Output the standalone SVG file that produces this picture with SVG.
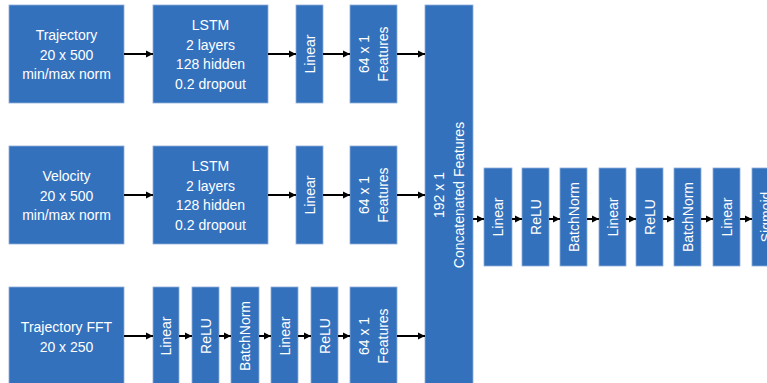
<svg xmlns="http://www.w3.org/2000/svg" width="767" height="383" viewBox="0 0 767 383">
<style>
.b{fill:#3371BD;stroke:#8FAEDB;stroke-width:0.8}
.t{fill:#fff;font-family:"Liberation Sans",Arial,sans-serif;font-size:14px;text-anchor:middle}
.c{stroke:#000;stroke-width:2;fill:none;marker-end:url(#ah)}
</style>
<defs>
<marker id="ah" markerUnits="userSpaceOnUse" markerWidth="8" markerHeight="8" refX="7" refY="4" orient="auto">
<path d="M0,0.5 L7,4 L0,7.5 Z" fill="#000"/>
</marker>
</defs>
<rect width="767" height="383" fill="#fff"/>
<g id="n-traj"><rect class="b" x="9" y="5" width="115" height="98"/><text class="t"><tspan x="66.5" y="40">Trajectory</tspan><tspan x="66.5" y="59.5">20 x 500</tspan><tspan x="66.5" y="79">min/max norm</tspan></text></g>
<g id="n-lstm1"><rect class="b" x="153" y="5" width="115" height="98"/><text class="t"><tspan x="210.5" y="30">LSTM</tspan><tspan x="210.5" y="49.5">2 layers</tspan><tspan x="210.5" y="69">128 hidden</tspan><tspan x="210.5" y="88.5">0.2 dropout</tspan></text></g>
<g id="n-lin1"><rect class="b" x="296" y="5" width="27" height="98"/><text class="t" transform="translate(309.5,54) rotate(-90)"><tspan x="0" y="5">Linear</tspan></text></g>
<g id="n-feat1"><rect class="b" x="350" y="5" width="47" height="98"/><text class="t" transform="translate(373.5,54) rotate(-90)"><tspan x="0" y="-4.75">64 x 1</tspan><tspan x="0" y="14.75">Features</tspan></text></g>

<g id="n-vel"><rect class="b" x="9" y="146" width="115" height="98"/><text class="t"><tspan x="66.5" y="181">Velocity</tspan><tspan x="66.5" y="200.5">20 x 500</tspan><tspan x="66.5" y="220">min/max norm</tspan></text></g>
<g id="n-lstm2"><rect class="b" x="153" y="146" width="115" height="98"/><text class="t"><tspan x="210.5" y="171">LSTM</tspan><tspan x="210.5" y="190.5">2 layers</tspan><tspan x="210.5" y="210">128 hidden</tspan><tspan x="210.5" y="229.5">0.2 dropout</tspan></text></g>
<g id="n-lin2"><rect class="b" x="296" y="146" width="27" height="98"/><text class="t" transform="translate(309.5,195) rotate(-90)"><tspan x="0" y="5">Linear</tspan></text></g>
<g id="n-feat2"><rect class="b" x="350" y="146" width="47" height="98"/><text class="t" transform="translate(373.5,195) rotate(-90)"><tspan x="0" y="-4.75">64 x 1</tspan><tspan x="0" y="14.75">Features</tspan></text></g>

<g id="n-fft"><rect class="b" x="9" y="287" width="115" height="98"/><text class="t"><tspan x="66.5" y="332">Trajectory FFT</tspan><tspan x="66.5" y="351.5">20 x 250</tspan></text></g>
<g id="n-f-lin1"><rect class="b" x="153" y="287" width="26" height="98"/><text class="t" transform="translate(166,336) rotate(-90)"><tspan x="0" y="5">Linear</tspan></text></g>
<g id="n-f-relu1"><rect class="b" x="192" y="287" width="27" height="98"/><text class="t" transform="translate(205.5,336) rotate(-90)"><tspan x="0" y="5">ReLU</tspan></text></g>
<g id="n-f-bn"><rect class="b" x="231" y="287" width="28" height="98"/><text class="t" transform="translate(245,336) rotate(-90)"><tspan x="0" y="5">BatchNorm</tspan></text></g>
<g id="n-f-lin2"><rect class="b" x="271" y="287" width="27" height="98"/><text class="t" transform="translate(284.5,336) rotate(-90)"><tspan x="0" y="5">Linear</tspan></text></g>
<g id="n-f-relu2"><rect class="b" x="311" y="287" width="27" height="98"/><text class="t" transform="translate(324.5,336) rotate(-90)"><tspan x="0" y="5">ReLU</tspan></text></g>
<g id="n-feat3"><rect class="b" x="350" y="287" width="47" height="98"/><text class="t" transform="translate(373.5,336) rotate(-90)"><tspan x="0" y="-4.75">64 x 1</tspan><tspan x="0" y="14.75">Features</tspan></text></g>

<g id="n-concat"><rect class="b" x="425" y="5" width="48" height="380"/><text class="t" transform="translate(449,195) rotate(-90)"><tspan x="0" y="-4.75">192 x 1</tspan><tspan x="0" y="14.75">Concatenated Features</tspan></text></g>

<g id="n-h-lin1"><rect class="b" x="484" y="168" width="28" height="98"/><text class="t" transform="translate(498,217) rotate(-90)"><tspan x="0" y="5">Linear</tspan></text></g>
<g id="n-h-relu1"><rect class="b" x="522" y="168" width="27" height="98"/><text class="t" transform="translate(535.5,217) rotate(-90)"><tspan x="0" y="5">ReLU</tspan></text></g>
<g id="n-h-bn1"><rect class="b" x="560" y="168" width="27" height="98"/><text class="t" transform="translate(573.5,217) rotate(-90)"><tspan x="0" y="5">BatchNorm</tspan></text></g>
<g id="n-h-lin2"><rect class="b" x="599" y="168" width="27" height="98"/><text class="t" transform="translate(612.5,217) rotate(-90)"><tspan x="0" y="5">Linear</tspan></text></g>
<g id="n-h-relu2"><rect class="b" x="636" y="168" width="27" height="98"/><text class="t" transform="translate(649.5,217) rotate(-90)"><tspan x="0" y="5">ReLU</tspan></text></g>
<g id="n-h-bn2"><rect class="b" x="674" y="168" width="27" height="98"/><text class="t" transform="translate(687.5,217) rotate(-90)"><tspan x="0" y="5">BatchNorm</tspan></text></g>
<g id="n-h-lin3"><rect class="b" x="713" y="168" width="27" height="98"/><text class="t" transform="translate(726.5,217) rotate(-90)"><tspan x="0" y="5">Linear</tspan></text></g>
<g id="n-h-sig"><rect class="b" x="752" y="168" width="27" height="98"/><text class="t" transform="translate(765.5,217) rotate(-90)"><tspan x="0" y="5">Sigmoid</tspan></text></g>

<g id="connectors">
<path class="c" d="M124,54H153"/><path class="c" d="M268,54H296"/><path class="c" d="M323,54H350"/><path class="c" d="M397,54H425"/>
<path class="c" d="M124,195H153"/><path class="c" d="M268,195H296"/><path class="c" d="M323,195H350"/><path class="c" d="M397,195H425"/>
<path class="c" d="M124,336H153"/><path class="c" d="M179,336H192"/><path class="c" d="M219,336H231"/><path class="c" d="M259,336H271"/><path class="c" d="M298,336H311"/><path class="c" d="M338,336H350"/><path class="c" d="M397,336H425"/>
<path class="c" d="M473,219H484"/><path class="c" d="M512,219H522"/><path class="c" d="M549,219H560"/><path class="c" d="M587,219H599"/><path class="c" d="M626,219H636"/><path class="c" d="M663,219H674"/><path class="c" d="M701,219H713"/><path class="c" d="M740,219H752"/>
</g>
</svg>
